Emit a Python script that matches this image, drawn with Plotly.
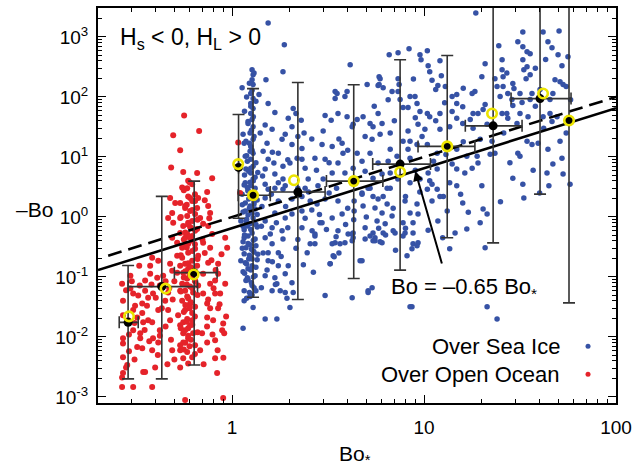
import math
import plotly.graph_objects as go

# ---------------- data ----------------
sea_ice_points = [
    (1.54,1710),(1.87,740),(1.84,264),(4.12,345),(18.6,2510),
    (1.27,285),(1.286,235),(1.27,194),(1.286,161),(1.25,114),(1.286,94),(1.25,78),(1.286,64),(1.25,53),(1.27,42),
    (1.286,32),(1.24,25),(1.286,19.7),(1.25,15),(1.286,11.5),(1.25,9.2),(1.286,7.0),(1.25,5.4),(1.286,4.3),(1.25,3.3),
    (1.127,143),(1.50,194),(1.38,110),(1.54,78),(1.67,55),(1.96,44),(2.08,64),(2.15,53),(2.29,41),(2.37,25),
    (1.486,34),(1.615,29),(1.40,25),(1.14,24),(1.52,16.9),(1.82,19.7),(1.74,11.5),(2.05,16.2),(1.45,12.4),
    (1.54,9.2),(1.65,7.9),(1.84,7.0),(2.0,7.9),(2.18,9.5),(2.31,9.2),(1.486,6.3),(1.67,5.2),(1.84,4.3),(1.74,3.7),
    (1.155,16.9),(1.17,10.3),(1.18,6.3),(1.17,3.7),(2.70,9.5),(2.98,27),(3.05,49),(3.28,41),(3.52,114),(3.44,94),
    (3.56,53),(3.87,102),(3.97,47),(4.22,32),(2.94,16.2),(3.32,15),(3.74,16.9),(3.05,9.2),(3.56,7.9),(3.78,11.5),
    (3.32,5.4),(3.87,5.4),(2.98,4.3),(2.49,4.3),(2.40,3.0),(1.54,2.9),(1.84,2.9),(2.31,13.9),(2.05,32),(1.89,24),
    (1.486,3.5),(1.67,3.0),(1.89,3.3),(1.486,2.07),(1.74,1.84),(2.05,1.99),(2.31,2.2),(2.55,1.84),(2.77,1.64),
    (3.05,1.99),(3.56,1.84),(3.74,1.12),(3.32,0.96),(2.94,0.80),(2.31,1.26),(2.05,1.12),(1.89,0.96),(1.67,1.16),
    (1.486,0.86),(1.615,0.66),(1.82,0.59),(2.31,0.66),(2.61,0.59),(2.87,0.80),(3.56,0.59),(4.02,0.52),(4.22,0.40),
    (3.44,0.37),(2.70,0.48),(2.55,0.356),(1.84,0.43),(1.615,0.356),(1.486,0.45),(1.54,0.253),(1.74,0.253),
    (2.46,0.253),(3.36,0.225),(3.24,0.166),(1.96,0.154),(1.74,0.154),(1.54,0.186),(1.486,0.105),(1.67,0.097),
    (2.05,0.080),(1.89,0.113),(1.615,0.059),(1.78,0.059),(1.93,0.044),(2.08,0.055),(3.05,0.049),(1.286,0.031),
    (1.24,3.8),(1.155,3.4),(1.317,3.0),(1.21,2.7),(1.127,2.4),(1.27,2.15),(1.35,1.91),(1.17,1.71),(1.24,1.52),
    (1.317,1.36),(1.14,1.21),(1.21,1.08),(1.286,0.96),(1.18,0.86),(1.24,0.77),(1.35,0.68),(1.155,0.61),(1.27,0.54),
    (1.21,0.48),(1.317,0.43),(1.14,0.385),(1.24,0.343),(1.18,0.306),(1.286,0.273),(1.155,0.243),(1.24,0.217),
    (1.35,0.194),(1.17,0.173),(1.27,0.154),(1.21,0.137),(1.14,0.122),(1.317,0.105),(1.18,0.087),(1.27,0.072),
    (1.155,0.059),(1.24,0.047),(1.20,3.1),(1.286,2.5),(1.22,1.99),(1.17,1.26),(1.30,1.64),(1.20,0.71),(1.155,0.45),
    (1.33,0.33),(1.22,0.20),(1.20,0.097),(1.33,0.059),(1.155,0.040),(1.11,0.186),(1.11,0.86),
    (1.21,39),(1.18,18.2),(1.24,12.4),(1.20,8.5),(1.22,5.8),(1.317,4.6),
    # denser stripe near Bo* ~ 1.25
    (1.30,250),(1.23,170),(1.27,130),(1.19,100),(1.33,85),(1.25,70),(1.16,58),(1.29,47),(1.21,36),(1.26,28),
    (1.30,22),(1.23,17),(1.27,13),(1.19,10.5),(1.33,8),(1.25,6.5),(1.16,5),(1.29,4),(1.21,2.8),(1.26,2.3),
    (1.30,1.8),(1.23,1.4),(1.27,1.15),(1.19,0.92),(1.33,0.75),(1.25,0.62),(1.16,0.5),(1.29,0.41),(1.21,0.36),
    (1.26,0.29),(1.30,0.26),(1.23,0.23),(1.27,0.2),(1.19,0.165),(1.33,0.145),(1.25,0.13),(1.16,0.115),(1.29,0.1),
    (1.21,0.09),(1.26,0.08),(1.30,0.066),(1.23,0.055),(1.27,0.05),(1.19,0.044),(1.14,0.7),(1.13,0.3),(1.35,1.1),
    (1.36,0.24),(1.13,1.6),(1.36,5.5),
    (6.58,505),(7.32,545),(8.35,635),(9.52,505),(10.4,588),(9.64,417),(10.5,332),(10.7,264),(12.1,402),(12.3,226),
    (5.83,218),(5.05,161),(5.76,155),(6.12,143),(7.32,202),(7.41,161),(7.32,123),(6.81,123),(7.50,91),(8.45,102),
    (8.97,102),(9.19,78),(8.25,67),(7.77,67),(9.52,57),(10.4,53),(10.7,47),(12.1,53),(11.8,155),(11.5,133),
    (12.9,149),(14.0,102),(14.8,110),(14.8,78),(14.0,57),(15.9,69),(17.8,114),(18.4,123),(18.0,53),(5.23,36),
    (4.81,47),(4.48,42),(4.27,35),(5.76,53),(6.04,36),(5.42,32),(4.93,22),(5.36,19.7),(5.90,24),(6.66,25),
    (8.25,27),(9.30,35),(10.1,29),(9.76,22),(8.45,18.2),(7.77,18.2),(12.1,29),(13.6,32),(14.8,44),(15.9,36),
    (17.4,42),(19.1,53),(4.48,11.5),(4.75,8.5),(5.23,11.5),(5.76,7.9),(6.66,13.4),(7.23,10.3),(6.50,8.5),
    (8.25,13.4),(8.45,9.5),(10.4,16.2),(9.19,16.2),(11.7,11.5),(14.8,13.4),(16.7,10.3),(14.8,6.3),(16.3,5.4),
    (14.0,7.6),(17.8,6.5),(4.27,6.5),(4.93,5.8),(5.42,4.4),(6.04,5.2),(6.66,5.4),(10.5,5.4),(11.7,6.3),(13.6,3.7),
    (8.45,3.7),(9.52,4.3),(10.7,4.0),(11.7,2.9),(12.6,2.2),(10.4,2.9),(6.42,3.0),(5.23,3.0),(4.75,2.5),(19.6,19.7),
    (18.9,10.3),(19.1,7.9),
    (4.32,1.84),(4.32,1.26),(4.75,2.4),(5.11,3.0),(5.42,2.2),(5.76,1.99),(6.12,2.2),(6.42,1.64),(6.66,3.0),
    (5.55,1.41),(4.81,1.52),(6.04,1.16),(6.81,1.04),(5.69,0.86),(6.27,0.77),(4.93,0.66),(4.27,0.54),(5.42,0.54),
    (5.55,0.40),(6.04,0.37),(6.90,0.59),(7.96,1.84),(8.45,1.16),(9.19,1.64),(9.30,1.12),(8.76,0.80),(7.77,0.80),
    (8.76,0.54),(9.30,0.37),(8.65,0.294),(8.15,0.225),(11.0,1.84),(12.1,2.2),(11.8,0.86),(13.2,1.26),(14.8,3.3),
    (15.9,1.71),(14.5,0.54),(16.7,0.63),(4.75,0.186),(5.36,0.066),(5.11,0.059),(4.22,0.045),(8.65,0.032),(13.6,0.294),
    (32.7,1215),(41.7,1215),(50.5,1260),(30.8,830),(32.7,685),(44.2,830),(46.4,659),(34.4,566),(35.7,525),
    (24.5,712),(20.8,358),(25.5,417),(49.9,505),(56.2,468),(52.3,332),(32.7,417),(34.4,319),(33.1,285),(35.7,235),
    (34.0,202),(25.5,285),(25.8,218),(23.4,202),(20.0,218),(29.0,167),(29.4,138),(25.8,149),(27.3,114),(24.9,102),
    (31.6,114),(36.5,114),(40.2,133),(48.1,194),(51.1,180),(53.0,161),(46.9,114),(45.3,91),(28.7,91),(29.0,72),
    (32.4,81),(35.7,91),(20.8,75),(20.3,62),(27.0,53),(27.3,44),(31.6,53),(45.3,53),(46.4,39),(41.7,47),(49.3,47),
    (34.8,47),(30.5,36),(21.3,35),(25.5,53),(22.6,18.2),(22.1,11.1),(23.4,11.5),(34.4,18.2),(36.5,16.2),(39.3,16.9),
    (51.1,18.2),(30.8,11.5),(31.6,10.3),(44.2,13.4),(46.9,7.6),(52.3,9.5),(43.7,5.4),(53.0,5.2),(29.0,4.4),
    (32.7,3.5),(44.7,3.3),(57.6,3.5),(33.1,2.07),(20.0,3.3),(20.3,1.36),(21.3,1.12),(19.6,0.80),(20.8,0.306),
    (3.24,0.166),(3.40,0.217),(3.32,0.356),(3.48,0.47),(3.65,0.356),(3.87,0.37),(4.22,0.52),(4.27,0.45),(4.64,0.186),
    (4.93,0.43),(5.23,0.48),(5.42,0.40),(5.90,0.385),(6.12,0.54),(5.55,0.45),(7.06,0.54),(7.77,0.48),(7.96,0.54),
    (8.76,0.356),(9.19,0.33),(8.45,0.032),(5.11,0.055),(21.3,0.032),(24.0,0.020),
    (1.14,0.0139),(1.486,0.020),(1.71,0.020),(2.0,0.031),(1.71,0.077),(1.89,0.055),(2.70,0.356),(2.70,0.52),
    (3.44,123),(3.97,123),(5.90,202),(5.83,161),
    # fill of the dense cloud
    (1.42,0.7),(1.58,0.52),(1.7,0.8),(1.95,0.66),(2.2,0.42),(2.4,0.95),(2.6,1.3),(2.85,1.1),(3.1,0.62),(3.6,0.25),
    (3.9,0.75),(1.45,0.25),(1.62,0.18),(1.8,0.22),(2.15,0.3),(2.35,0.16),(2.65,0.12),(1.43,1.5),(1.6,2.4),(1.9,1.5),
    (2.2,3.0),(2.5,2.6),(2.8,3.3),(3.2,2.5),(3.5,3.0),(4.0,1.4),(1.44,4.8),(1.62,12),(1.95,9),(2.4,6.5),(2.75,6),
    (3.2,8),(3.6,20),(4.0,13),(2.6,20),(2.2,22),(4.3,0.9),(1.52,0.13),(1.68,0.075),(1.42,0.066),
    (5.0,1.0),(6.3,0.5),(7.1,0.28),(8.0,0.65),(10.5,0.6),(12.5,0.45),(11,3.5),(15.5,2.4),(17,1.2),(9.5,2.6),
    (8,2.2),(6.9,1.4),(5.8,0.65),(7.3,4.3),(9,6),(11.2,8.5),(13,11),(16,18),(18,30),(11.5,40),(9,45),(7,40),
    (5.5,70),(6.5,90),(12.8,80),(16,140),(8.8,200),(11,190),
    (24,150),(27,250),(38,300),(43,420),(55,150),(58,90),(38,70),(42,30),(26,25),(28,8),(37,6),(40,2.5),(25,1.8),(55,25),
]

open_ocean_points = [
    (0.562,49),(0.493,23),(0.673,27),(0.536,12.9),(0.481,6.7),(0.556,5.6),(0.657,5.4),(0.787,4.4),(0.590,4.0),
    (0.549,3.1),(0.583,3.0),(0.619,3.5),(0.741,2.6),(0.475,2.07),(0.505,1.71),(0.536,1.71),(0.604,2.07),(0.641,1.84),
    (0.665,2.07),(0.569,1.41),(0.657,1.41),(0.750,1.52),(0.768,1.16),(0.487,1.16),(0.536,0.96),(0.464,0.96),
    (0.493,0.80),(0.556,0.71),(0.590,0.80),(0.681,0.96),(0.706,0.77),(0.750,0.71),(0.657,0.63),(0.536,0.54),
    (0.569,0.45),(0.619,0.48),(0.787,0.52),(0.920,0.45),(0.487,0.45),(0.517,0.37),(0.590,0.356),(0.706,0.37),
    (0.768,0.306),(0.549,0.306),(0.942,0.306),
    (0.328,0.154),(0.374,0.154),(0.383,0.209),(0.412,0.186),(0.475,0.166),(0.517,0.225),(0.487,0.127),(0.374,0.113),
    (0.352,0.087),(0.407,0.097),(0.517,0.118),(0.267,0.077),(0.295,0.064),(0.305,0.053),(0.324,0.049),(0.352,0.059),
    (0.365,0.045),(0.387,0.053),(0.340,0.036),(0.312,0.033),(0.270,0.040),(0.270,0.023),(0.305,0.028),(0.320,0.021),
    (0.340,0.025),(0.344,0.0175),(0.305,0.0129),(0.332,0.0115),(0.270,0.0095),(0.270,0.0078),(0.332,0.0095),
    (0.340,0.0065),(0.383,0.0175),(0.475,0.019),(0.387,0.0095),(0.412,0.0081),(0.383,0.0060),(0.270,0.0046),
    (0.284,0.0034),(0.270,0.0025),(0.267,0.00146),(0.305,0.00146),(0.383,0.00146),(0.344,0.0026),(0.397,0.0031),
    (0.487,0.0060),(0.536,0.0073),(0.536,0.0060),(0.556,0.0044),(0.536,0.0031),(0.590,0.0036),(0.619,0.0046),
    (0.583,0.0056),(0.523,0.023),(0.536,0.0156),(0.590,0.0139),(0.556,0.0115),(0.681,0.0060),(0.697,0.0115),
    (0.741,0.0081),(0.815,0.0044),(0.815,0.0088),(0.741,0.021),(0.796,0.019),(0.845,0.030),(0.768,0.030),
    (0.815,0.053),(0.866,0.053),(0.768,0.077),(0.815,0.087),(0.706,0.053),(0.741,0.036),(0.887,0.0129),
    (0.920,0.077),(0.835,0.0025),(0.569,0.00089),(0.898,0.00096),(0.845,0.166),(0.845,0.113),(0.750,0.173),
    (0.706,0.113),
    (0.590,2.2),(0.619,1.84),(0.569,1.52),(0.604,1.26),(0.641,1.12),(0.583,1.04),(0.619,0.86),(0.604,0.68),
    (0.641,0.59),(0.583,0.52),(0.619,0.40),(0.556,0.33),(0.641,0.294),(0.590,0.253),(0.549,0.209),(0.619,0.186),
    (0.569,0.166),(0.657,0.154),(0.590,0.137),(0.556,0.118),(0.619,0.105),(0.583,0.094),(0.641,0.087),(0.549,0.077),
    (0.604,0.069),(0.569,0.059),(0.626,0.055),(0.583,0.047),(0.549,0.040),(0.604,0.036),(0.641,0.032),(0.569,0.028),
    (0.619,0.025),(0.583,0.020),(0.556,0.0175),(0.604,0.0156),(0.569,0.0129),(0.626,0.0115),(0.590,0.0095),
    (0.556,0.0081),(0.641,0.0073),(0.619,0.019),(0.665,0.072),(0.536,0.059),(0.665,0.225),(0.536,0.154),
    (0.42,0.072),(0.448,0.040),(0.412,0.028),(0.464,0.055),(0.437,0.105),(0.365,0.019),(0.287,0.019),(0.295,0.105),
    (0.42,0.0129),(0.464,0.028),(1.075,17.5),(1.10,2.5),(0.267,0.0021),(0.352,0.0026),(0.909,0.0115),(0.898,0.0168),
    # denser stripe near Bo* ~ 0.6
    (0.60,3.8),(0.56,2.8),(0.64,2.4),(0.58,1.6),(0.62,1.3),(0.54,1.0),(0.66,0.9),(0.59,0.75),(0.61,0.65),(0.57,0.55),
    (0.60,0.46),(0.56,0.42),(0.64,0.35),(0.58,0.31),(0.62,0.27),(0.54,0.23),(0.66,0.2),(0.59,0.17),(0.61,0.145),
    (0.57,0.125),(0.60,0.11),(0.56,0.098),(0.64,0.085),(0.58,0.075),(0.62,0.065),(0.54,0.057),(0.66,0.05),
    (0.59,0.044),(0.61,0.038),(0.57,0.034),(0.60,0.03),(0.56,0.026),(0.64,0.022),(0.58,0.018),(0.62,0.016),
    (0.54,0.014),(0.66,0.012),(0.59,0.0105),(0.61,0.009),(0.57,0.008),(0.60,0.007),(0.56,0.0062),(0.64,0.0052),
    (0.28,0.06),(0.30,0.085),(0.31,0.017),(0.29,0.011),(0.33,0.072),(0.36,0.033),(0.38,0.075),(0.40,0.045),
    (0.43,0.03),(0.45,0.085),(0.47,0.065),(0.49,0.042),(0.50,0.085),(0.35,0.013),(0.32,0.0068),(0.29,0.0058),
    (0.37,0.0085),(0.42,0.0105),(0.45,0.015),(0.48,0.009),(0.5,0.0042),(0.46,0.0035),(0.41,0.005),(0.28,0.0031),
    (0.31,0.0042),
    (0.72,0.25),(0.78,0.19),(0.82,0.13),(0.88,0.24),(0.7,0.42),(0.76,0.95),(0.72,1.9),(0.8,0.065),(0.86,0.035),
    (0.74,0.015),(0.79,0.011),(0.84,0.006),(0.9,0.0045),(0.71,0.0035),(0.75,0.042),(0.93,0.022),
]

# bin statistics over open ocean: black mean, yellow median, error bars
oo_mean_x = [0.287, 0.43, 0.634]
oo_mean_y = [0.0175, 0.069, 0.118]
oo_y_low = [0.0020, 0.0020, 0.0034]
oo_y_high = [0.155, 2.2, 3.96]
oo_x_low = [0.258, 0.287, 0.50]
oo_x_high = [0.324, 0.66, 0.835]
oo_median_x = [0.29, 0.45, 0.63]
oo_median_y = [0.022, 0.064, 0.11]

# bin statistics over sea ice
si_mean_x = [1.08, 1.285, 2.2, 4.3, 7.5, 13.2, 22.9, 40.2, 56.9]
si_mean_y = [6.7, 2.3, 2.6, 3.96, 7.6, 15, 33, 94, 40.6]
si_y_low = [0.95, 0.046, 0.042, 0.094, 0.13, 0.45, 0.37, 2.4, 0.037]
si_y_high = [51, 138, 174, 160, 417, 490, 5000, 5000, 5000]
si_x_low = [1.08, 1.075, 1.58, 3.1, 5.4, 9.3, 16.4, 28.4, 56.9]
si_x_high = [1.08, 1.58, 3.05, 6.1, 10.8, 18.4, 32.4, 58.3, 56.9]
si_median_x = [1.075, 1.285, 2.1, 4.3, 7.5, 13.2, 22.6, 41.7, 56.9]
si_median_y = [7.6, 2.3, 4.1, 3.96, 5.6, 15, 53, 114, 40.6]

fit_coef = 0.65          # Bo = -0.65 Bo*
fit_x = [0.2, 100]
dash_coef = 1.0
dash_x = [0.226, 100]

x_ticks = [1, 10, 100]
x_ticktext = ["1", "10", "100"]
y_ticks = [1e-3, 1e-2, 1e-1, 1, 10, 100, 1000]
y_ticktext = ["10<sup>-3</sup>", "10<sup>-2</sup>", "10<sup>-1</sup>", "10<sup>0</sup>",
              "10<sup>1</sup>", "10<sup>2</sup>", "10<sup>3</sup>"]

# ---------------- styling ----------------
BLUE = "#3652a5"
RED = "#e5232a"
YELLOW = "#ece400"
ERR = "#333333"
FONT = "Liberation Sans, Arial, sans-serif"

si_x, si_y = zip(*sea_ice_points)
oo_x, oo_y = zip(*open_ocean_points)

fig = go.Figure()

fig.add_trace(go.Scatter(x=si_x, y=si_y, mode="markers", name="Over Sea Ice",
                         marker=dict(color=BLUE, size=5.5, line=dict(width=0))))
fig.add_trace(go.Scatter(x=oo_x, y=oo_y, mode="markers", name="Over Open Ocean",
                         marker=dict(color=RED, size=6, line=dict(width=0))))

fig.add_trace(go.Scatter(x=fit_x, y=[fit_coef * v for v in fit_x], mode="lines",
                         line=dict(color="black", width=2.6), showlegend=False))
fig.add_trace(go.Scatter(x=dash_x, y=[dash_coef * v for v in dash_x], mode="lines",
                         line=dict(color="black", width=2.6, dash="14px,7px"), showlegend=False))


def binned(mx, my, ylo, yhi, xlo, xhi):
    return go.Scatter(
        x=mx, y=my, mode="markers", showlegend=False,
        marker=dict(color="black", size=9),
        error_y=dict(type="data", symmetric=False,
                     array=[h - v for h, v in zip(yhi, my)],
                     arrayminus=[v - l for l, v in zip(ylo, my)],
                     color=ERR, thickness=1.6, width=6),
        error_x=dict(type="data", symmetric=False,
                     array=[h - v for h, v in zip(xhi, mx)],
                     arrayminus=[v - l for l, v in zip(xlo, mx)],
                     color=ERR, thickness=1.6, width=6),
    )


fig.add_trace(binned(oo_mean_x, oo_mean_y, oo_y_low, oo_y_high, oo_x_low, oo_x_high))
fig.add_trace(binned(si_mean_x, si_mean_y, si_y_low, si_y_high, si_x_low, si_x_high))

for mxs, mys in ((oo_median_x, oo_median_y), (si_median_x, si_median_y)):
    fig.add_trace(go.Scatter(x=mxs, y=mys, mode="markers", showlegend=False,
                             marker=dict(symbol="circle-open", color=YELLOW, size=9.5,
                                         line=dict(color=YELLOW, width=2.6))))

x_minor = [m * d for d in (0.1, 1, 10) for m in range(2, 10) if 0.2 <= m * d <= 100]
y_minor = [m * d for d in (1e-3, 1e-2, 1e-1, 1, 10, 100, 1000) for m in range(2, 10) if m * d <= 3000]

axis_common = dict(
    type="log", showline=True, linecolor="black", linewidth=2, mirror="allticks",
    ticks="inside", ticklen=8, tickwidth=1.2, tickcolor="black",
    showgrid=False, zeroline=False, tickfont=dict(family=FONT, size=19, color="black"),
)

fig.update_xaxes(range=[math.log10(0.2), 2.0], tickmode="array", tickvals=x_ticks,
                 ticktext=x_ticktext, ticklabelstandoff=6,
                 minor=dict(tickmode="array", tickvals=x_minor, ticks="inside", ticklen=4,
                            tickwidth=1, tickcolor="black", showgrid=False),
                 **axis_common)
fig.update_yaxes(range=[-3.101, 3.483], tickmode="array", tickvals=y_ticks,
                 ticktext=y_ticktext, ticklabelstandoff=4,
                 minor=dict(tickmode="array", tickvals=y_minor, ticks="inside", ticklen=4,
                            tickwidth=1, tickcolor="black", showgrid=False),
                 **axis_common)

annotations = [
    dict(text="H<sub>s</sub> &lt; 0, H<sub>L</sub> &gt; 0", xref="paper", yref="paper",
         x=0.0385, y=0.924, xanchor="left", yanchor="middle", showarrow=False,
         font=dict(family=FONT, size=23, color="black")),
    dict(text="–Bo", xref="paper", yref="paper", x=-0.123, y=0.491,
         xanchor="center", yanchor="middle", showarrow=False,
         font=dict(family=FONT, size=21, color="black")),
    dict(text="Bo<sub>*</sub>", xref="paper", yref="paper", x=0.497, y=-0.131,
         xanchor="center", yanchor="middle", showarrow=False,
         font=dict(family=FONT, size=21, color="black")),
    dict(text="Bo = –0.65 Bo<sub>*</sub>", xref="paper", yref="paper", x=0.707, y=0.29,
         xanchor="center", yanchor="middle", showarrow=False,
         font=dict(family=FONT, size=22, color="black")),
    dict(text="", x=math.log10(9.0), y=math.log10(fit_coef * 9.0), xref="x", yref="y",
         showarrow=True, ax=27, ay=94, arrowhead=2, arrowsize=1, arrowwidth=2, arrowcolor="black"),
    dict(text="Over Sea Ice", xref="paper", yref="paper", x=0.896, y=0.1436,
         xanchor="right", yanchor="middle", showarrow=False,
         font=dict(family=FONT, size=22, color="black")),
    dict(text="Over Open Ocean", xref="paper", yref="paper", x=0.896, y=0.073,
         xanchor="right", yanchor="middle", showarrow=False,
         font=dict(family=FONT, size=22, color="black")),
]

shapes = [
    dict(type="circle", xref="paper", yref="paper", xsizemode="pixel", ysizemode="pixel",
         xanchor=0.946, yanchor=0.1436, x0=-2.5, x1=2.5, y0=-2.5, y1=2.5,
         fillcolor=BLUE, line=dict(width=0)),
    dict(type="circle", xref="paper", yref="paper", xsizemode="pixel", ysizemode="pixel",
         xanchor=0.946, yanchor=0.073, x0=-2.5, x1=2.5, y0=-2.5, y1=2.5,
         fillcolor=RED, line=dict(width=0)),
]

fig.update_layout(
    width=642, height=468, margin=dict(l=98, r=26, t=6, b=65),
    paper_bgcolor="white", plot_bgcolor="white", showlegend=False,
    annotations=annotations, shapes=shapes,
    font=dict(family=FONT, color="black"),
)

fig.write_html("out.html")
